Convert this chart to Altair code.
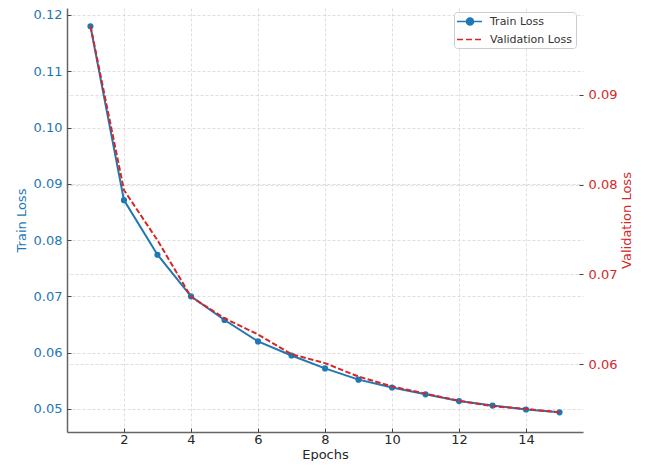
import altair as alt
import pandas as pd

# ---- data ----
epochs = list(range(1, 16))
train_loss = [0.1180, 0.0871, 0.0774, 0.0700, 0.0658, 0.0620, 0.0595, 0.0572,
              0.0552, 0.0538, 0.0526, 0.0514, 0.0506, 0.0499, 0.0494]
val_loss = [0.0977, 0.0794, 0.0738, 0.0675, 0.0651, 0.0633, 0.0611, 0.0601,
            0.0586, 0.0575, 0.0567, 0.0559, 0.0553, 0.0550, 0.0546]
series_names = ["Train Loss", "Validation Loss"]
series_colors = ["#1f77b4", "#d62728"]
x_ticks = [2, 4, 6, 8, 10, 12, 14]
train_ticks = [0.05, 0.06, 0.07, 0.08, 0.09, 0.10, 0.11, 0.12]
val_ticks = [0.06, 0.07, 0.08, 0.09]

BLUE, RED = series_colors
FONT = "DejaVu Sans"

df = pd.DataFrame({"epoch": epochs, "train": train_loss, "val": val_loss})
legend_df = pd.DataFrame({"series": series_names})

x_scale = alt.Scale(domain=[0.3, 15.7], nice=False, zero=False)
yl_scale = alt.Scale(domain=[0.0459, 0.12124], nice=False, zero=False)
yr_scale = alt.Scale(domain=[0.05242, 0.0997], nice=False, zero=False)

main_axis = dict(
    labelFont=FONT, labelFontSize=13, titleFont=FONT, titleFontSize=13,
    titleFontWeight="normal", grid=True, gridColor="#d6d6d6", gridDash=[3, 2],
    gridWidth=0.8, ticks=False, tickSize=0,
)
tick_axis = dict(
    title=None, labels=False, domain=False, grid=False, ticks=True,
    tickSize=4, tickColor="#444444", tickWidth=1, offset=-4,
)

# main series
train_line = alt.Chart(df).mark_line(
    color=BLUE, strokeWidth=2,
    point=alt.OverlayMarkDef(filled=True, size=38, color=BLUE, opacity=1),
).encode(
    x=alt.X("epoch:Q", scale=x_scale,
            axis=alt.Axis(title="Epochs", values=x_ticks, format="d", orient="bottom",
                          labelColor="#262626", titleColor="#262626",
                          domainColor="#666666", domainWidth=1.5,
                          labelPadding=1.5, titlePadding=1.5, **main_axis)),
    y=alt.Y("train:Q", scale=yl_scale,
            axis=alt.Axis(title="Train Loss", orient="left", values=train_ticks,
                          format=".2f", labelColor=BLUE, titleColor=BLUE,
                          domainColor="#666666", domainWidth=1.5,
                          labelPadding=5, titlePadding=5, **main_axis)),
)

# inward tick marks for the left axis (no drawn data)
ghost_left = alt.Chart(df).mark_point(opacity=0).encode(
    y=alt.Y("train:Q", scale=yl_scale,
            axis=alt.Axis(orient="left", values=train_ticks, **tick_axis)),
).transform_filter("false")

val_line = alt.Chart(df).mark_line(
    color=RED, strokeWidth=2, strokeDash=[5.5, 2.4],
).encode(
    x=alt.X("epoch:Q", scale=x_scale,
            axis=alt.Axis(orient="bottom", values=x_ticks, **tick_axis)),
    y=alt.Y("val:Q", scale=yr_scale,
            axis=alt.Axis(title="Validation Loss", orient="right", values=val_ticks,
                          format=".2f", labelColor=RED, titleColor=RED, domain=False,
                          titleAngle=270, titleBaseline="top",
                          labelPadding=5, titlePadding=4, **main_axis)),
)

ghost_right = alt.Chart(df).mark_point(opacity=0).encode(
    y=alt.Y("val:Q", scale=yr_scale,
            axis=alt.Axis(orient="right", values=val_ticks, **tick_axis)),
).transform_filter("false")

train_group = alt.layer(train_line, ghost_left).resolve_axis(y="independent")
val_group = alt.layer(val_line, ghost_right).resolve_axis(y="independent")

# legend (symbols come from a shape scale of custom paths)
train_sym = "M-1.3,0L3.7,0M0.6,0A0.7,0.7 0 1,0 2.0,0A0.7,0.7 0 1,0 0.6,0Z"
val_sym = "M-1.3,0L-0.1,0M0.5,0L1.7,0M2.3,0L3.5,0"

leg = alt.Legend(
    title=None, orient="none", legendX=387, legendY=4, padding=3.5,
    fillColor="rgba(255,255,255,0.8)", strokeColor="#cccccc", cornerRadius=3,
    symbolSize=100, symbolStrokeWidth=1.6, symbolOpacity=1, labelOffset=20.5,
    rowPadding=5, labelFont=FONT, labelFontSize=11, labelColor="#333333",
)

carrier = alt.Chart(legend_df).mark_point(filled=True, strokeWidth=1.6).encode(
    fill=alt.Fill("series:N", scale=alt.Scale(domain=series_names, range=series_colors), legend=leg),
    stroke=alt.Stroke("series:N", scale=alt.Scale(domain=series_names, range=series_colors), legend=leg),
    shape=alt.Shape("series:N", scale=alt.Scale(domain=series_names, range=[train_sym, val_sym]), legend=leg),
).transform_filter("false")

chart = alt.layer(train_group, val_group, carrier).resolve_scale(
    y="independent"
).resolve_axis(
    x="independent"
).properties(
    width=516, height=424,
    autosize=alt.AutoSizeParams(type="none"),
    padding={"left": 59, "top": 0, "right": 64, "bottom": 29},
    background="white",
).configure_view(stroke=None)

chart.save("out.html", embed_options={"renderer": "svg", "actions": False})
